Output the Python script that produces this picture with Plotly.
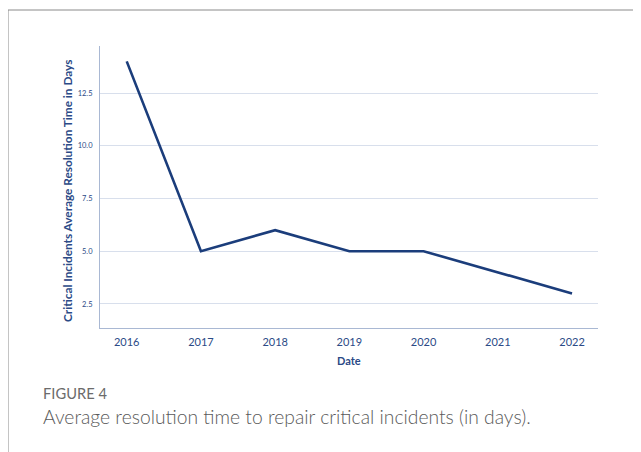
import plotly.graph_objects as go

years = [2016, 2017, 2018, 2019, 2020, 2021, 2022]
avg_days = [14, 5, 6, 5, 5, 4, 3]
y_ticks = [2.5, 5.0, 7.5, 10.0, 12.5]
y_tick_labels = ["2.5", "5.0", "7.5", "10.0", "12.5"]

OFF = 8  # page body margin
W, H = 641 - OFF, 452 - OFF
L, R, T, B = 100 - OFF, 641 - 598, 46 - OFF, 452 - 328
pw, ph = W - L - R, H - T - B

def px(x):
    return (x - OFF - L) / pw

def py(y):
    return 1 - (y - OFF - T) / ph

navy = "#1b3d7b"
lab = "#2b4a86"
fig = go.Figure()
fig.add_trace(go.Scatter(x=years, y=avg_days, mode="lines",
                         line=dict(color=navy, width=2.6), showlegend=False))

fig.update_layout(
    width=W, height=H,
    margin=dict(l=L, r=R, t=T, b=B),
    paper_bgcolor="white", plot_bgcolor="white",
    font=dict(family="Lato, Open Sans, sans-serif", color=navy),
    xaxis=dict(range=[2015.64, 2022.35], tickvals=years, ticktext=[str(y) for y in years],
               showgrid=False, zeroline=False, showline=True, linecolor="#a9b8d3", linewidth=1,
               ticks="outside", ticklen=4, tickcolor="rgba(0,0,0,0)",
               tickfont=dict(size=11, color=lab, family="Lato, sans-serif")),
    yaxis=dict(range=[1.36, 14.73], tickvals=y_ticks, ticktext=y_tick_labels,
               showgrid=True, gridcolor="#d8dfec", gridwidth=1.4,
               zeroline=False, showline=True, linecolor="#a9b8d3", linewidth=1,
               ticks="outside", ticklen=5, tickcolor="rgba(0,0,0,0)",
               tickfont=dict(size=7.5, color=lab)),
    shapes=[
        dict(type="line", xref="paper", yref="paper", x0=px(8), x1=px(641), y0=py(10), y1=py(10),
             line=dict(color="#8a8a8a", width=1)),
        dict(type="line", xref="paper", yref="paper", x0=px(8), x1=px(8), y0=py(10), y1=py(452),
             line=dict(color="#8a8a8a", width=1)),
    ],
    annotations=[
        dict(text="<b>Critical Incidents Average Resolution Time in Days</b>", xref="paper", yref="paper",
             x=px(67), y=py(191), textangle=-90, showarrow=False,
             font=dict(size=11.8, color=lab, family="Lato, sans-serif"), xanchor="center", yanchor="middle"),
        dict(text="<b>Date</b>", xref="paper", yref="paper", x=px(349), y=py(361), showarrow=False,
             font=dict(size=11, color=lab, family="Lato, sans-serif"), xanchor="center", yanchor="middle"),
        dict(text="FIGURE 4", xref="paper", yref="paper", x=px(41), y=py(393), showarrow=False,
             font=dict(size=14.7, color="#6b6b6b", family="Lato, sans-serif"), xanchor="left", yanchor="middle"),
        dict(text="Average resolution time to repair critical incidents (in days).", xref="paper", yref="paper",
             x=px(41), y=py(416), showarrow=False,
             font=dict(size=19.3, color="#5a5a5a", family="Lato Light, Lato, sans-serif"), xanchor="left", yanchor="middle"),
    ],
)

fig.write_html("out.html")
